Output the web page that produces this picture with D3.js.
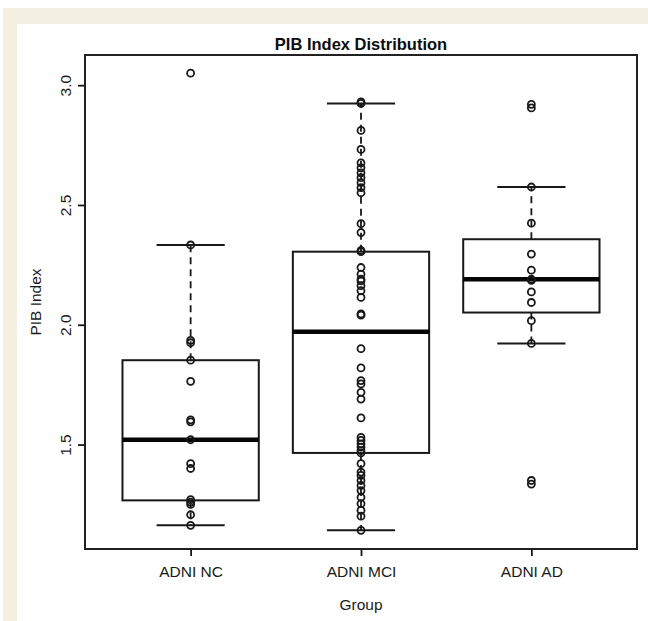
<!DOCTYPE html>
<html><head><meta charset="utf-8">
<script src="https://cdn.jsdelivr.net/npm/d3@7"></script>
<style>body{margin:0;background:#fff}svg{display:block}</style>
</head><body><svg id="c" width="648" height="621"></svg>
<script>
const groups = ["ADNI NC", "ADNI MCI", "ADNI AD"];
const ncValues = [3.05, 2.333, 1.935, 1.925, 1.852, 1.764, 1.603, 1.595, 1.52, 1.42, 1.40, 1.27, 1.26, 1.25, 1.207, 1.163];
const mciValues = [2.93, 2.924, 2.811, 2.732, 2.676, 2.655, 2.634, 2.614, 2.593, 2.572, 2.551, 2.422, 2.385,
  2.31, 2.305, 2.239, 2.211, 2.19, 2.183, 2.163, 2.142, 2.114, 2.045, 2.04, 1.90, 1.82, 1.767, 1.753,
  1.718, 1.69, 1.611, 1.53, 1.517, 1.503, 1.489, 1.475, 1.465, 1.42, 1.385, 1.371, 1.35, 1.329, 1.308,
  1.28, 1.253, 1.225, 1.201, 1.142];
const adValues = [2.92, 2.905, 2.575, 2.424, 2.295, 2.228, 2.19, 2.185, 2.137, 2.093, 2.017, 1.922, 1.35, 1.335];
const lowerWhisker = [1.163, 1.142, 1.922];
const q1 = [1.267, 1.465, 2.051];
const medians = [1.52, 1.971, 2.19];
const q3 = [1.852, 2.305, 2.357];
const upperWhisker = [2.333, 2.924, 2.575];
const yTicks = [1.5, 2.0, 2.5, 3.0];
const allValues = [ncValues, mciValues, adValues];

const svg = d3.select("#c");
const ink = "#181818";
const textInk = "#1a1a1a";
const font = "'Liberation Sans', Arial, Helvetica, sans-serif";

// background frame
svg.append("rect").attr("x", 3).attr("y", 8).attr("width", 645).attr("height", 613).attr("fill", "#f4f0e2");
svg.append("rect").attr("x", 17).attr("y", 24).attr("width", 631).attr("height", 597).attr("fill", "#fff");

const L = 85, R = 637, T = 55, B = 549;
const x = d3.scaleLinear().domain([0.38, 3.62]).range([L, R]);
const y = d3.scaleLinear().domain([1.064, 3.126]).range([B, T]);
const boxW = x(1.4) - x(1);
const capW = x(1.2) - x(1);

const g = svg.append("g");

groups.forEach((name, i) => {
  const cx = x(i + 1);
  g.append("line").attr("x1", cx).attr("x2", cx).attr("y1", y(q3[i])).attr("y2", y(upperWhisker[i]))
    .attr("stroke", ink).attr("stroke-width", 1.8).attr("stroke-dasharray", "7,5");
  g.append("line").attr("x1", cx).attr("x2", cx).attr("y1", y(q1[i])).attr("y2", y(lowerWhisker[i]))
    .attr("stroke", ink).attr("stroke-width", 1.8).attr("stroke-dasharray", "7,5");
  [upperWhisker[i], lowerWhisker[i]].forEach(v => {
    g.append("line").attr("x1", cx - capW).attr("x2", cx + capW).attr("y1", y(v)).attr("y2", y(v))
      .attr("stroke", ink).attr("stroke-width", 2);
  });
  g.append("rect").attr("x", cx - boxW).attr("width", 2 * boxW)
    .attr("y", y(q3[i])).attr("height", y(q1[i]) - y(q3[i]))
    .attr("fill", "none").attr("stroke", ink).attr("stroke-width", 2);
  g.append("line").attr("x1", cx - boxW).attr("x2", cx + boxW).attr("y1", y(medians[i])).attr("y2", y(medians[i]))
    .attr("stroke", "#050505").attr("stroke-width", 4.5);
  g.selectAll(null).data(allValues[i]).enter().append("circle")
    .attr("cx", cx).attr("cy", d => y(d)).attr("r", 3.5)
    .attr("fill", "none").attr("stroke", ink).attr("stroke-width", 1.8);
});

// frame
svg.append("rect").attr("x", L).attr("y", T).attr("width", R - L).attr("height", B - T)
  .attr("fill", "none").attr("stroke", "#222").attr("stroke-width", 2);

// y axis
const yAxis = svg.append("g").attr("transform", `translate(${L},0)`)
  .call(d3.axisLeft(y).tickValues(yTicks).tickSize(7).tickFormat(d3.format(".1f")));
yAxis.select(".domain").remove();
yAxis.selectAll(".tick line").attr("stroke", ink).attr("stroke-width", 1.8);
yAxis.selectAll(".tick text").attr("x", null).attr("dy", null)
  .attr("transform", "translate(-14,0) rotate(-90)").attr("text-anchor", "middle")
  .attr("font-family", font).attr("font-size", 15.5).attr("fill", textInk);

// x axis
const xAxis = svg.append("g").attr("transform", `translate(0,${B})`)
  .call(d3.axisBottom(x).tickValues([1, 2, 3]).tickSize(7).tickFormat((d) => groups[d - 1]));
xAxis.select(".domain").remove();
xAxis.selectAll(".tick line").attr("stroke", ink).attr("stroke-width", 1.8);
xAxis.selectAll(".tick text").attr("y", 17).attr("dy", "0.71em")
  .attr("font-family", font).attr("font-size", 15.5).attr("fill", textInk);

// titles
svg.append("text").attr("x", (L + R) / 2).attr("y", 50).attr("text-anchor", "middle")
  .attr("font-family", font).attr("font-weight", "bold").attr("font-size", 16.5).attr("fill", "#0d0d0d")
  .text("PIB Index Distribution");
svg.append("text").attr("transform", `translate(41,${(T + B) / 2}) rotate(-90)`).attr("text-anchor", "middle")
  .attr("font-family", font).attr("font-size", 15.5).attr("fill", textInk).text("PIB Index");
svg.append("text").attr("x", (L + R) / 2).attr("y", 610).attr("text-anchor", "middle")
  .attr("font-family", font).attr("font-size", 15.5).attr("fill", textInk).text("Group");
</script></body></html>
